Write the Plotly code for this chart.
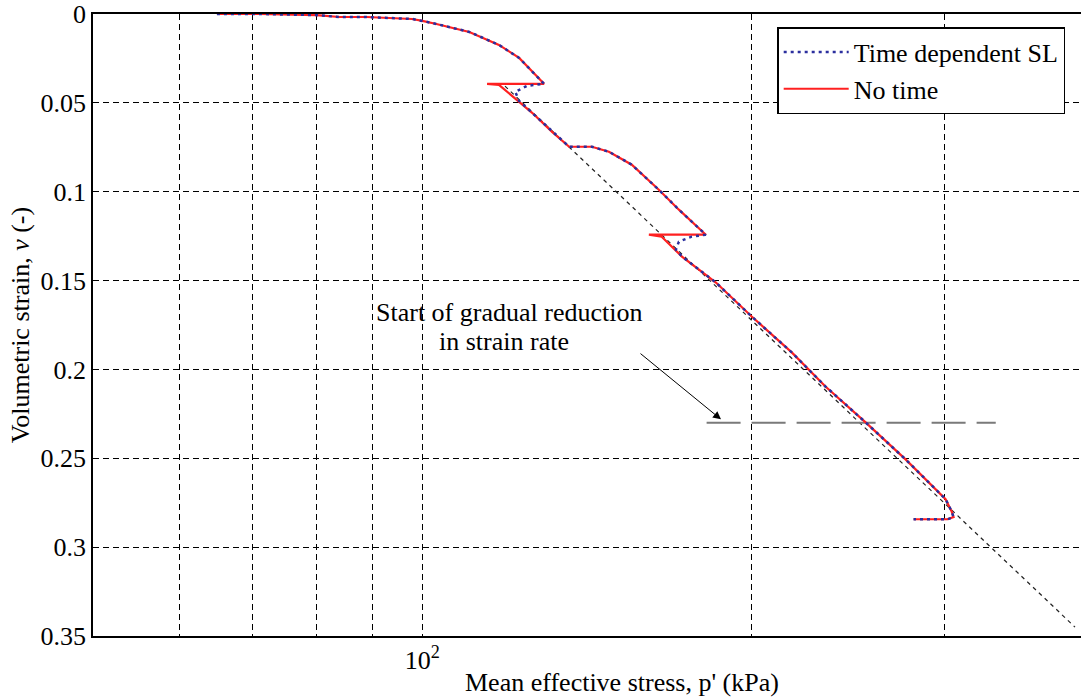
import plotly.graph_objects as go

# curve: mean effective stress p' (kPa) vs volumetric strain
p_no_time = [64.9, 71.0, 80.0, 84.0, 88.9, 94.3, 97.9, 100.0, 103.0, 110.4, 117.5, 122.6, 126.0, 129.2,
             114.6, 117.5, 122.6, 126.0, 131.4, 136.2, 142.9, 148.1, 155.4, 164.5, 171.6, 181.6,
             161.1, 165.5, 172.7, 185.5, 200.0, 217.6, 233.6, 254.2, 276.5, 300.8, 304.6, 305.9, 302.0, 281.2]
v_no_time = [0.0, 0.0, 0.0006, 0.0017, 0.0017, 0.0025, 0.0028, 0.0039, 0.0056, 0.0101, 0.0174, 0.0247, 0.0326, 0.0393,
             0.0393, 0.0399, 0.0494, 0.0556, 0.0663, 0.0747, 0.0747, 0.0775, 0.0848, 0.0989, 0.1101, 0.1242,
             0.1242, 0.1253, 0.1365, 0.1511, 0.1702, 0.1904, 0.2096, 0.2298, 0.2506, 0.2730, 0.2798, 0.2831, 0.2843, 0.2843]

p_time_dep = [64.9, 71.0, 80.0, 84.0, 88.9, 94.3, 97.9, 100.0, 103.0, 110.4, 117.5, 122.6, 126.0, 129.2,
              124.7, 121.6, 122.6, 126.0, 131.4, 136.2, 142.9, 148.1, 155.4, 164.5, 171.6, 181.6,
              176.3, 171.6, 170.5, 172.7, 185.5, 200.0, 217.6, 233.6, 254.2, 276.5, 300.8, 304.6, 305.9, 302.0, 281.2]
v_time_dep = [0.0, 0.0, 0.0006, 0.0017, 0.0017, 0.0025, 0.0028, 0.0039, 0.0056, 0.0101, 0.0174, 0.0247, 0.0326, 0.0393,
              0.0404, 0.0438, 0.0489, 0.0556, 0.0663, 0.0747, 0.0747, 0.0775, 0.0848, 0.0989, 0.1101, 0.1242,
              0.1253, 0.1281, 0.1326, 0.1365, 0.1511, 0.1702, 0.1904, 0.2096, 0.2298, 0.2506, 0.2730, 0.2798, 0.2831, 0.2843, 0.2843]

# reference (normal compression) line and the marker of strain rate reduction
p_ncl = [119.0, 395.0]
v_ncl = [0.0406, 0.345]
p_reduction = [181.9, 334.3]
v_reduction = [0.23, 0.23]

x_grid = [60, 70, 80, 90, 100, 200, 300]
x_labels = ["", "", "", "", "10<sup>2</sup>", "", ""]
y_ticks = [0, 0.05, 0.1, 0.15, 0.2, 0.25, 0.3, 0.35]
y_labels = ["0", "0.05", "0.1", "0.15", "0.2", "0.25", "0.3", "0.35"]

FONT = "Liberation Serif"

fig = go.Figure()

fig.add_trace(go.Scatter(x=p_ncl, y=v_ncl, mode="lines", showlegend=False,
                         line=dict(color="#222222", width=1.2, dash="4px,4px")))
fig.add_trace(go.Scatter(x=p_reduction, y=v_reduction, mode="lines", showlegend=False,
                         line=dict(color="#7a7a7a", width=2, dash="34px,11px")))
fig.add_trace(go.Scatter(x=p_no_time, y=v_no_time, mode="lines", name="No time",
                         legendrank=2, line=dict(color="#ff2020", width=2.2)))
fig.add_trace(go.Scatter(x=p_time_dep, y=v_time_dep, mode="lines", name="Time dependent SL",
                         legendrank=1, line=dict(color="#2b2f9e", width=2.5, dash="3px,4px")))

# annotation text and arrow
fig.add_annotation(x=2.0792, y=0.168, xref="x", yref="y", text="Start of gradual reduction",
                   showarrow=False, font=dict(family=FONT, size=26, color="black"))
fig.add_annotation(x=2.0748, y=0.1843, xref="x", yref="y", text="in strain rate",
                   showarrow=False, font=dict(family=FONT, size=26, color="black"))
fig.add_annotation(x=2.273, y=0.2281, xref="x", yref="y", text="", showarrow=True,
                   ax=-82, ay=-67, arrowhead=2, arrowsize=1.6, arrowwidth=1, arrowcolor="black")

# x axis title
fig.add_annotation(x=0.535, y=-0.074, xref="paper", yref="paper", text="Mean effective stress, p' (kPa)",
                   showarrow=False, xanchor="center", yanchor="middle",
                   font=dict(family=FONT, size=26, color="black"))

fig.update_xaxes(type="log", range=[1.69897, 2.60206], tickvals=x_grid, ticktext=x_labels,
                 showgrid=True, gridcolor="black", griddash="6px,4px", gridwidth=1,
                 showline=True, linecolor="black", linewidth=1.5, mirror=True, automargin=False,
                 ticks="", zeroline=False, tickfont=dict(family=FONT, size=26, color="black"))
fig.update_yaxes(range=[0.35, 0], tickvals=y_ticks, ticktext=y_labels,
                 showgrid=True, gridcolor="black", griddash="6px,4px", gridwidth=1,
                 showline=True, linecolor="black", linewidth=1.5, mirror=True, automargin=False,
                 ticks="inside", ticklen=6, tickcolor="black", zeroline=False,
                 ticklabeloverflow="allow",
                 tickfont=dict(family=FONT, size=26, color="black"),
                 title=dict(text="Volumetric strain, <i>ν</i> (-)", standoff=3,
                            font=dict(family=FONT, size=26, color="black")))

fig.update_layout(
    width=1081, height=698,
    margin=dict(l=93, r=0, t=14, b=62),
    plot_bgcolor="white", paper_bgcolor="white",
    font=dict(family=FONT, color="black"),
    legend=dict(x=0.984, y=0.979, xanchor="right", yanchor="top",
                bgcolor="white", bordercolor="black", borderwidth=1.5,
                font=dict(family=FONT, size=26, color="black"),
                tracegroupgap=0, itemwidth=65),
)

# drop the default 8px body margin so the figure fills the window exactly
fig.write_html("out.html", config={"displayModeBar": False},
               post_script="document.body.style.margin='0';")
